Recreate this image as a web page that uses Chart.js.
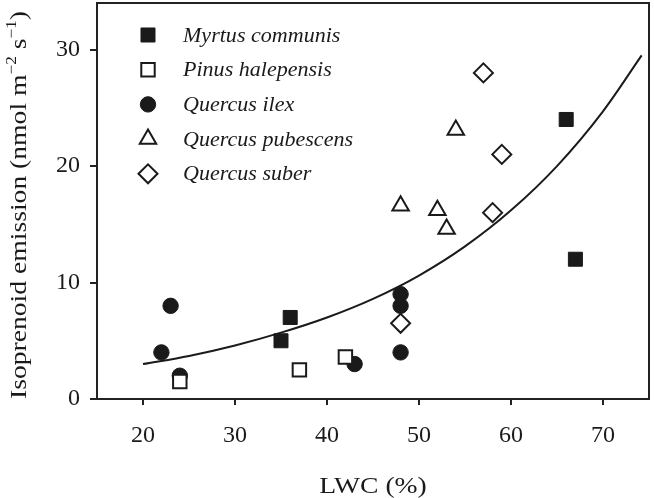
<!DOCTYPE html>
<html>
<head>
<meta charset="utf-8">
<script src="https://cdn.jsdelivr.net/npm/chart.js@4.4.0/dist/chart.umd.min.js"></script>
<style>
  html, body { margin: 0; padding: 0; background: #fff; }
</style>
</head>
<body>
<canvas id="chartLwc" width="654" height="498"></canvas>
<script>
const xTicks = [20, 30, 40, 50, 60, 70];
const yTicks = [0, 10, 20, 30];

const especies = ["Myrtus communis", "Pinus halepensis", "Quercus ilex", "Quercus pubescens", "Quercus suber"];

const myrtusX = [35, 36, 66, 67];
const myrtusY = [5, 7, 24, 12];
const pinusX = [24, 37, 42];
const pinusY = [1.5, 2.5, 3.6];
const ilexX = [22, 23, 24, 43, 48, 48, 48];
const ilexY = [4, 8, 2, 3, 4, 8, 9];
const pubescensX = [48, 52, 53, 54];
const pubescensY = [16.6, 16.2, 14.6, 23.1];
const suberX = [48, 57, 58, 59];
const suberY = [6.5, 28, 16, 21];

// curva de ajuste
const ajusteX = [20, 25, 30, 35, 40, 45, 50, 55, 60, 65, 70, 74.2];
const ajusteY = [3.0, 3.7, 4.6, 5.7, 7.0, 8.6, 10.6, 13.1, 16.2, 20.0, 24.7, 29.5];

const puntos = (xs, ys) => xs.map((x, i) => ({ x, y: ys[i] }));

const tinta = "#1a1a1a";
const serif = "'Liberation Serif', 'Times New Roman', serif";

// estilos de marcador por especie
const estilos = [
  { pointStyle: "rect", radius: 9.9, fill: tinta, borderWidth: 1 },
  { pointStyle: "rect", radius: 9.5, fill: "#fff", borderWidth: 2 },
  { pointStyle: "circle", radius: 7.7, fill: tinta, borderWidth: 1 },
  { pointStyle: "triangle", radius: 9.5, fill: "#fff", borderWidth: 2 },
  { pointStyle: "rectRot", radius: 9.5, fill: "#fff", borderWidth: 2 }
];
const series = [
  puntos(myrtusX, myrtusY),
  puntos(pinusX, pinusY),
  puntos(ilexX, ilexY),
  puntos(pubescensX, pubescensY),
  puntos(suberX, suberY)
];
// orden de dibujo: menor = arriba
const ordenes = [2, 1, 5, 3, 4];

const datasets = series.map((data, i) => ({
  label: especies[i],
  data,
  pointStyle: estilos[i].pointStyle,
  pointRadius: estilos[i].radius,
  pointBackgroundColor: estilos[i].fill,
  pointBorderColor: tinta,
  pointBorderWidth: estilos[i].borderWidth,
  showLine: false,
  order: ordenes[i]
}));

datasets.push({
  label: "ajuste",
  data: puntos(ajusteX, ajusteY),
  showLine: true,
  borderColor: tinta,
  borderWidth: 2,
  pointRadius: 0,
  cubicInterpolationMode: "monotone",
  fill: false,
  order: 10
});

// texto estirado a lo ancho (la figura original es algo más ancha)
function textoEstirado(ctx, texto, x, y, escala) {
  ctx.save();
  ctx.translate(x, y);
  ctx.scale(escala, 1);
  ctx.fillText(texto, 0, 0);
  ctx.restore();
}

// marco, títulos y leyenda
const marcoYTextos = {
  id: "marcoYTextos",
  afterDraw(chart) {
    const { ctx, chartArea: a } = chart;
    ctx.save();
    ctx.strokeStyle = "#222";
    ctx.lineWidth = 2;
    ctx.strokeRect(a.left, a.top, a.right - a.left, a.bottom - a.top);

    ctx.fillStyle = tinta;
    ctx.textBaseline = "alphabetic";

    // título X
    ctx.font = `24px ${serif}`;
    ctx.textAlign = "center";
    textoEstirado(ctx, "LWC (%)", (a.left + a.right) / 2, a.bottom + 94, 1.15);

    // título Y con superíndices
    const partes = [
      { t: "Isoprenoid emission (nmol m", sup: false },
      { t: "\u22122", sup: true },
      { t: " s", sup: false },
      { t: "\u22121", sup: true },
      { t: ")", sup: false }
    ];
    const fuente = p => p.sup ? `15px ${serif}` : `24px ${serif}`;
    let total = 0;
    partes.forEach(p => { ctx.font = fuente(p); p.w = ctx.measureText(p.t).width; total += p.w; });
    const largo = (a.bottom - a.top) - 8;
    const k = largo / total;
    ctx.translate(26, a.top + 8 + largo / 2);
    ctx.rotate(-Math.PI / 2);
    ctx.scale(k, 1);
    ctx.textAlign = "left";
    let px = -total / 2;
    partes.forEach(p => {
      ctx.font = fuente(p);
      ctx.fillText(p.t, px, p.sup ? -10 : 0);
      px += p.w;
    });
    ctx.setTransform(1, 0, 0, 1, 0, 0);

    // leyenda
    ctx.font = `italic 21px ${serif}`;
    ctx.textBaseline = "middle";
    ctx.textAlign = "left";
    especies.forEach((nombre, i) => {
      const y = a.top + 32 + i * 34.7;
      const e = estilos[i];
      ctx.fillStyle = e.fill;
      ctx.strokeStyle = tinta;
      ctx.lineWidth = e.borderWidth;
      Chart.helpers.drawPoint(ctx, { pointStyle: e.pointStyle, radius: e.radius, borderWidth: e.borderWidth, rotation: 0 }, a.left + 51, y);
      ctx.fillStyle = tinta;
      textoEstirado(ctx, nombre, a.left + 86, y + 1, 1.05);
    });
    ctx.restore();
  }
};

const ctx = document.getElementById("chartLwc").getContext("2d");
new Chart(ctx, {
  type: "scatter",
  data: { datasets },
  options: {
    responsive: false,
    animation: false,
    layout: { autoPadding: false, padding: { top: 3, right: 5, left: 0, bottom: 0 } },
    plugins: { legend: { display: false }, tooltip: { enabled: false } },
    scales: {
      x: {
        type: "linear",
        min: 15,
        max: 75,
        afterBuildTicks: s => { s.ticks = xTicks.map(v => ({ value: v })); },
        afterFit: s => { s.height = 99; s.paddingLeft = 0; s.paddingRight = 0; },
        grid: { drawOnChartArea: false, drawTicks: true, tickLength: 6, color: "#222", lineWidth: 2 },
        border: { display: false },
        ticks: { color: tinta, font: { family: serif, size: 24 }, padding: 16, maxRotation: 0 }
      },
      y: {
        type: "linear",
        min: 0,
        max: 34,
        afterBuildTicks: s => { s.ticks = yTicks.map(v => ({ value: v })); },
        afterFit: s => { s.width = 97; s.paddingTop = 0; s.paddingBottom = 0; },
        grid: { drawOnChartArea: false, drawTicks: true, tickLength: 7, color: "#222", lineWidth: 2 },
        border: { display: false },
        ticks: { color: tinta, font: { family: serif, size: 24 }, padding: 10 }
      }
    }
  },
  plugins: [marcoYTextos]
});
</script>
</body>
</html>
